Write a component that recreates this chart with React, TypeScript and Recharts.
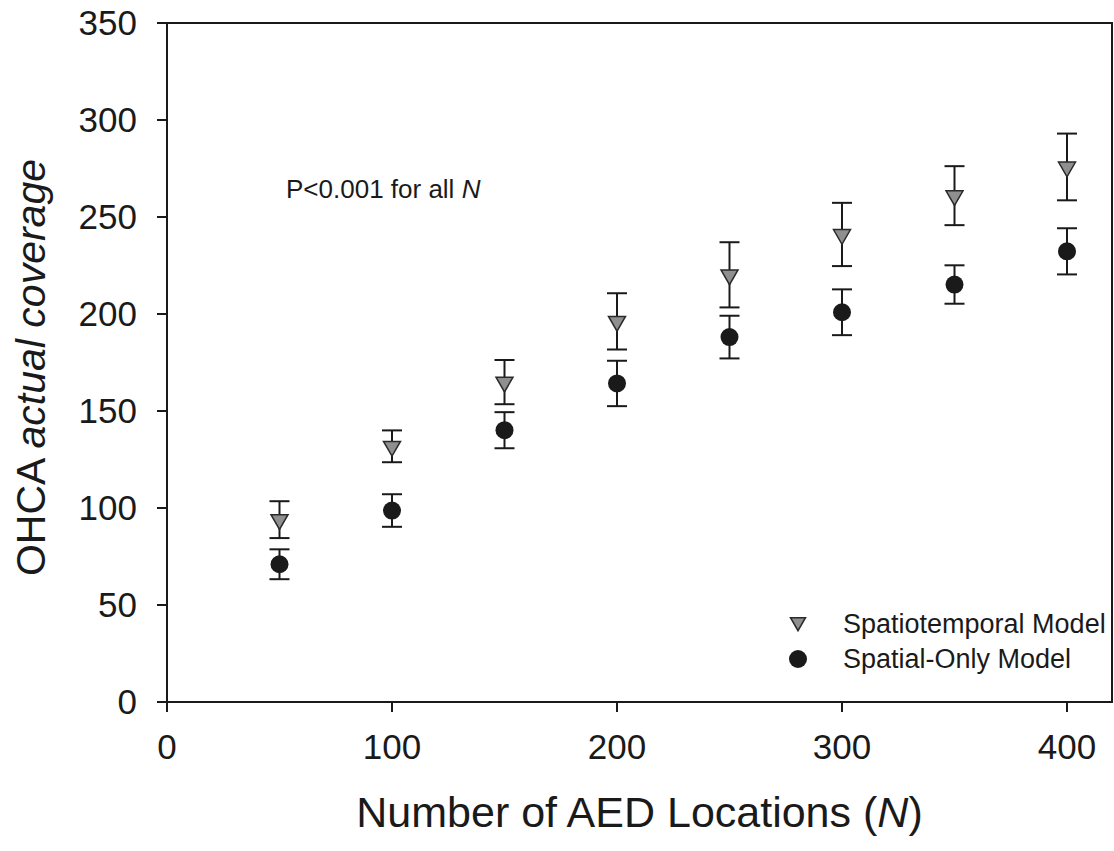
import React from "react";
import {
  ScatterChart,
  Scatter,
  XAxis,
  YAxis,
  ErrorBar,
  ReferenceArea,
  Label,
} from "recharts";

const N_VALUES = [50, 100, 150, 200, 250, 300, 350, 400];
const SPATIOTEMPORAL = [94, 131.8, 164.9, 196.2, 220.2, 241, 261, 275.8];
const SPATIOTEMPORAL_ERR = [9.5, 8.2, 11.4, 14.5, 16.8, 16.3, 15.2, 17.2];
const SPATIAL_ONLY = [71, 98.7, 140.1, 164.2, 188.1, 200.9, 215.2, 232.3];
const SPATIAL_ONLY_ERR = [7.7, 8.4, 9.3, 11.7, 11, 11.8, 9.9, 11.9];
const X_TICKS = [0, 100, 200, 300, 400];
const Y_TICKS = [0, 50, 100, 150, 200, 250, 300, 350];
const SERIES_NAMES = ["Spatiotemporal Model", "Spatial-Only Model"];

const stData = N_VALUES.map((n, i) => ({ n, v: SPATIOTEMPORAL[i], err: SPATIOTEMPORAL_ERR[i] }));
const soData = N_VALUES.map((n, i) => ({ n, v: SPATIAL_ONLY[i], err: SPATIAL_ONLY_ERR[i] }));

const FONT = '"Liberation Sans", Arial, sans-serif';
const INK = "#1a1a1a";
const TRI_FILL = "#8f8f8f";

// down-pointing triangle, centroid on the data point
const Triangle = ({ cx, cy, side = 17 }: any) => {
  const h = side * 0.866;
  const pts = `${cx - side / 2},${cy - h / 3} ${cx + side / 2},${cy - h / 3} ${cx},${cy + (2 * h) / 3}`;
  return <polygon points={pts} fill={TRI_FILL} stroke="#2a2a2a" strokeWidth={1.5} />;
};

const Dot = ({ cx, cy, r = 9 }: any) => <circle cx={cx} cy={cy} r={r} fill={INK} />;

export default function App() {
  return (
    <div style={{ position: "absolute", left: 0, top: 0, background: "#fff" }}>
      <ScatterChart
        width={1114}
        height={851}
        margin={{ top: 23, right: 2, bottom: 0, left: 0 }}
        style={{ fontFamily: FONT }}
      >
        <XAxis
          type="number"
          dataKey="n"
          domain={[0, 420]}
          ticks={X_TICKS}
          height={149}
          tickSize={10}
          tickMargin={22}
          axisLine={{ stroke: INK, strokeWidth: 2 }}
          tickLine={{ stroke: INK, strokeWidth: 2 }}
          tick={{ fill: INK, fontSize: 35, fontFamily: FONT }}
        >
          <Label
            content={({ viewBox }: any) => (
              <text
                x={viewBox.x + viewBox.width / 2}
                y={viewBox.y + 125}
                textAnchor="middle"
                fontSize={43}
                fill={INK}
                fontFamily={FONT}
              >
                Number of AED Locations (<tspan fontStyle="italic">N</tspan>)
              </text>
            )}
          />
        </XAxis>
        <YAxis
          type="number"
          dataKey="v"
          domain={[0, 350]}
          ticks={Y_TICKS}
          width={167}
          tickSize={10}
          tickMargin={20}
          axisLine={{ stroke: INK, strokeWidth: 2 }}
          tickLine={{ stroke: INK, strokeWidth: 2 }}
          tick={{ fill: INK, fontSize: 35, fontFamily: FONT }}
        >
          <Label
            content={({ viewBox }: any) => {
              const cy = viewBox.y + viewBox.height / 2 + 5;
              return (
                <text
                  x={45}
                  y={cy}
                  transform={`rotate(-90, 45, ${cy})`}
                  textAnchor="middle"
                  fontSize={41}
                  fill={INK}
                  fontFamily={FONT}
                >
                  OHCA <tspan fontStyle="italic">actual coverage</tspan>
                </text>
              );
            }}
          />
        </YAxis>
        <ReferenceArea x1={0} x2={420} y1={0} y2={350} fill="none" stroke={INK} strokeWidth={2} />
        <Scatter name={SERIES_NAMES[0]} data={stData} shape={<Triangle />} isAnimationActive={false}>
          <ErrorBar dataKey="err" direction="y" width={10} stroke={INK} strokeWidth={2} isAnimationActive={false} />
        </Scatter>
        <Scatter name={SERIES_NAMES[1]} data={soData} shape={<Dot />} isAnimationActive={false}>
          <ErrorBar dataKey="err" direction="y" width={10} stroke={INK} strokeWidth={2} isAnimationActive={false} />
        </Scatter>
        <g fontFamily={FONT} fill={INK}>
          <text x={286} y={198} fontSize={26}>
            P&lt;0.001 for all <tspan fontStyle="italic">N</tspan>
          </text>
          <Triangle cx={798} cy={622} side={15} />
          <text x={843} y={633} fontSize={27}>{SERIES_NAMES[0]}</text>
          <Dot cx={798} cy={659} r={9} />
          <text x={843} y={668} fontSize={27}>{SERIES_NAMES[1]}</text>
        </g>
      </ScatterChart>
    </div>
  );
}
